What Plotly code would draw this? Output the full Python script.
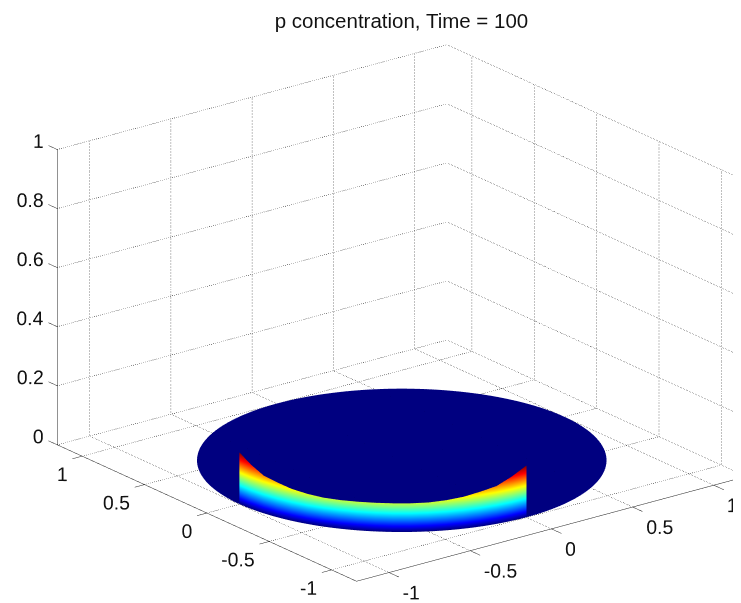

import numpy as np
import plotly.graph_objects as go

title = "p concentration, Time = 100"
disc_radii = [0, 0.5, 1.0]
disc_angles = list(range(0, 361, 2))
disc_level = 0.001
wall_angles = [-180,-175,-170,-165,-160,-155,-150,-145,-140,-135,-130,-125,-120,-115,-110,-105,-100,-95,-90]
wall_tops = [0.175,0.15,0.128,0.118,0.108,0.102,0.098,0.097,0.097,0.097,0.097,0.097,0.098,0.102,0.108,0.118,0.128,0.15,0.175]
wall_fracs = [0, 0.125, 0.25, 0.375, 0.5, 0.625, 0.75, 0.875, 1.0]
ticks_xy = [-1, -0.5, 0, 0.5, 1]
ticks_z = [0, 0.2, 0.4, 0.6, 0.8, 1]
box_xy = [-1.2, 1.2]
view_xy = [-1.6, 1.6]
view_z = [-0.2, 1.1]
jet = [[0,"#000080"],[0.11,"#0000ff"],[0.36,"#00ffff"],[0.61,"#ffff00"],[0.86,"#ff0000"],[1,"#800000"]]
FONT = "Liberation Sans"
flat = dict(ambient=1, diffuse=0, specular=0, roughness=1, fresnel=0)

fig = go.Figure()
R, T = np.meshgrid(disc_radii, np.radians(disc_angles))
X, Y = R*np.cos(T), R*np.sin(T)
Z = np.full_like(X, disc_level)
fig.add_surface(x=X, y=Y, z=Z, surfacecolor=np.zeros_like(Z), cmin=0, cmax=1, colorscale=jet,
                showscale=False, lighting=flat, hoverinfo="skip")
A, F = np.meshgrid(np.radians(wall_angles), wall_fracs)
H = F*np.array(wall_tops)[None, :]
fig.add_surface(x=np.cos(A), y=np.sin(A), z=H+disc_level, surfacecolor=H, cmin=0, cmax=max(wall_tops),
                colorscale=jet, showscale=False, lighting=flat, hoverinfo="skip")

def grid(xs, ys, zs):
    fig.add_scatter3d(x=xs, y=ys, z=zs, mode="lines", showlegend=False, hoverinfo="skip",
                      line=dict(color="#000000", width=1, dash="dot"))
def solid(xs, ys, zs):
    fig.add_scatter3d(x=xs, y=ys, z=zs, mode="lines", showlegend=False, hoverinfo="skip",
                      line=dict(color="#222222", width=1))
def labels(xs, ys, zs, vals, pos):
    fig.add_scatter3d(x=xs, y=ys, z=zs, mode="text", text=[str(v) for v in vals], textposition=pos,
                      showlegend=False, hoverinfo="skip",
                      textfont=dict(family=FONT, size=19.4, color="#111111"))

lo, hi = box_xy
zt = ticks_z[-1]
for t in ticks_xy:
    grid([t,t],[lo,hi],[0,0])
    grid([lo,hi],[t,t],[0,0])
    grid([t,t],[hi,hi],[0,zt])
    grid([hi,hi],[t,t],[0,zt])
for z in ticks_z:
    grid([lo,hi],[hi,hi],[z,z])
    grid([hi,hi],[lo,hi],[z,z])

solid([lo,lo],[hi,hi],[0,zt])
solid([lo,lo],[lo,hi],[0,0])
solid([lo,hi],[lo,lo],[0,0])
for t in ticks_xy:
    solid([t,t],[lo,lo-0.08],[0,0])
    solid([lo,lo-0.06],[t,t],[0,0])
for z in ticks_z:
    solid([lo,lo],[hi,hi+0.07],[z,z])

n = len(ticks_xy)
labels(ticks_xy, [lo+0.04]*n, [-0.0753]*n, ticks_xy, "middle right")
labels([lo+0.0246]*n, ticks_xy, [-0.0644]*n, ticks_xy, "middle left")
labels([lo]*len(ticks_z), [hi-0.04]*len(ticks_z), [z+0.0365 for z in ticks_z], ticks_z, "middle left")

SCALE = 1.63
cx, cy, cz = -0.0612, 0.047, 0.0646
hidden = dict(visible=False, showspikes=False)
xy_aspect = SCALE*(view_xy[1]-view_xy[0])/(box_xy[1]-box_xy[0])
z_aspect = 0.6415*SCALE*(view_z[1]-view_z[0])
fig.update_layout(width=741, height=603, margin=dict(l=0,r=0,t=0,b=0), paper_bgcolor="white",
    title=dict(text=title, x=0.531, xanchor="center", y=0.978, yanchor="middle",
               font=dict(family=FONT, size=20.5, color="#111111")),
    scene=dict(domain=dict(x=[0,1], y=[0,1]),
               xaxis=dict(hidden, range=view_xy), yaxis=dict(hidden, range=view_xy),
               zaxis=dict(hidden, range=view_z),
               camera=dict(projection=dict(type="orthographic"),
                           up=dict(x=0,y=0,z=1),
                           center=dict(x=cx,y=cy,z=cz),
                           eye=dict(x=-0.5197+cx,y=-0.6767+cy,z=0.3189+cz)),
               aspectmode="manual", aspectratio=dict(x=xy_aspect,y=xy_aspect,z=z_aspect)))
fig.write_html("out.html")
